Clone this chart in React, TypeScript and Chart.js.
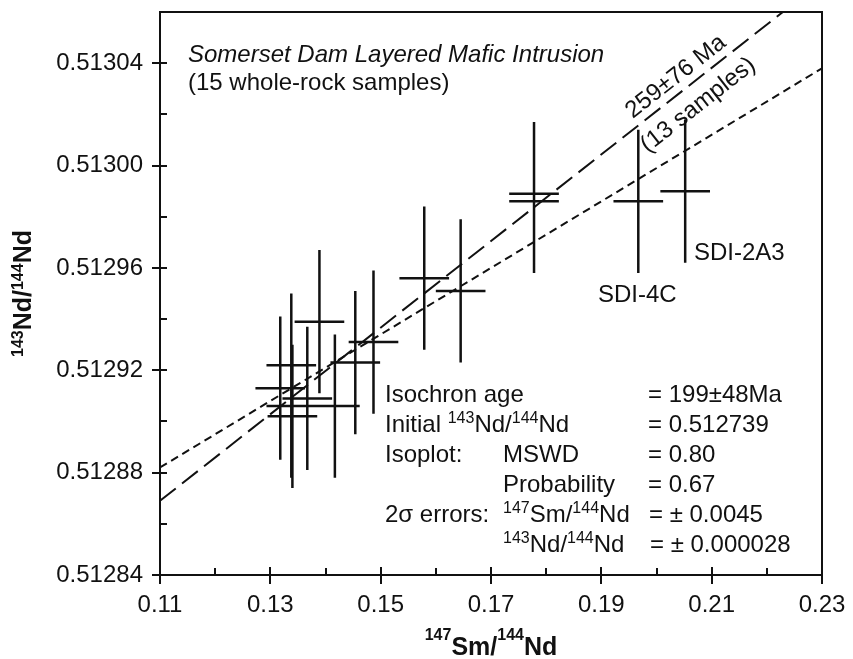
import React, { useEffect, useRef } from "react";
import { Chart, registerables } from "chart.js";

Chart.register(...registerables);

// ---- Data ----
const sampleSm = [0.2052, 0.1967, 0.1778, 0.1778, 0.1645, 0.1579, 0.1389, 0.1487, 0.1454, 0.1338, 0.1318, 0.1367, 0.1417, 0.1338, 0.134];
const sampleNd = [0.51299, 0.512986, 0.512989, 0.512986, 0.512951, 0.512956, 0.512939, 0.512931, 0.512923, 0.512922, 0.512913, 0.512909, 0.512906, 0.512906, 0.512902];
const smErr2s = 0.0045;
const ndErr2s = 0.000028;

const isoX = [0.11, 0.23];
const iso199Nd = [0.512882, 0.513038];
const iso259Nd = [0.512869, 0.513072];

const xMajorTicks = [0.11, 0.13, 0.15, 0.17, 0.19, 0.21, 0.23];
const xMinorTicks = [0.12, 0.14, 0.16, 0.18, 0.2, 0.22];
const yMajorTicks = [0.51284, 0.51288, 0.51292, 0.51296, 0.513, 0.51304];
const yMinorTicks = [0.51286, 0.5129, 0.51294, 0.51298, 0.51302];

const xMin = 0.11;
const xMax = 0.23;
const yMin = 0.51284;
const yMax = 0.51306;

const FAMILY = "'Liberation Sans', Arial, Helvetica, sans-serif";
const INK = "#111";

type Seg = { t: string; sup?: boolean };

function drawRich(
  ctx: CanvasRenderingContext2D,
  segs: Seg[],
  x: number,
  y: number,
  size: number,
  supSize: number,
  raise: number,
  weight: string,
  align: "left" | "center"
) {
  const fontOf = (s: Seg) => `${weight} ${s.sup ? supSize : size}px ${FAMILY}`;
  let total = 0;
  for (const s of segs) {
    ctx.font = fontOf(s);
    total += ctx.measureText(s.t).width;
  }
  let cx = align === "center" ? x - total / 2 : x;
  ctx.textAlign = "left";
  ctx.textBaseline = "alphabetic";
  for (const s of segs) {
    ctx.font = fontOf(s);
    ctx.fillText(s.t, cx, s.sup ? y - raise : y);
    cx += ctx.measureText(s.t).width;
  }
}

const annotPlugin = {
  id: "isoAnnot",
  afterDraw(chart: any) {
    const { ctx, chartArea: a } = chart;
    const xs = chart.scales.x;
    const ys = chart.scales.y;
    ctx.save();
    // frame
    ctx.strokeStyle = INK;
    ctx.lineWidth = 2;
    ctx.strokeRect(a.left, a.top, a.right - a.left, a.bottom - a.top);
    // ticks
    ctx.beginPath();
    xMajorTicks.forEach((v) => {
      const px = Math.round(xs.getPixelForValue(v));
      ctx.moveTo(px, a.bottom - 8);
      ctx.lineTo(px, a.bottom + 9);
    });
    xMinorTicks.forEach((v) => {
      const px = Math.round(xs.getPixelForValue(v));
      ctx.moveTo(px, a.bottom - 7);
      ctx.lineTo(px, a.bottom);
    });
    yMajorTicks.forEach((v) => {
      const py = Math.round(ys.getPixelForValue(v));
      ctx.moveTo(a.left - 8, py);
      ctx.lineTo(a.left + 7, py);
    });
    yMinorTicks.forEach((v) => {
      const py = Math.round(ys.getPixelForValue(v));
      ctx.moveTo(a.left, py);
      ctx.lineTo(a.left + 7, py);
    });
    ctx.stroke();

    ctx.fillStyle = INK;
    // Title
    ctx.textAlign = "left";
    ctx.textBaseline = "alphabetic";
    ctx.font = `italic 24px ${FAMILY}`;
    ctx.fillText("Somerset Dam Layered Mafic Intrusion", 188, 62);
    ctx.font = `24px ${FAMILY}`;
    ctx.fillText("(15 whole-rock samples)", 188, 90);

    // Sample labels
    ctx.fillText("SDI-4C", 598, 302);
    ctx.fillText("SDI-2A3", 694, 260);

    // Statistics block
    const c1 = 385;
    const c2 = 503;
    const c3 = 648;
    const b0 = 402;
    const lh = 30;
    const txt = (s: string, x: number, y: number) => {
      ctx.font = `24px ${FAMILY}`;
      ctx.textAlign = "left";
      ctx.textBaseline = "alphabetic";
      ctx.fillText(s, x, y);
    };
    txt("Isochron age", c1, b0);
    txt("= 199\u00b148Ma", c3, b0);
    drawRich(ctx, [{ t: "Initial " }, { t: "143", sup: true }, { t: "Nd/" }, { t: "144", sup: true }, { t: "Nd" }], c1, b0 + lh, 24, 16, 9, "normal", "left");
    txt("= 0.512739", c3, b0 + lh);
    txt("Isoplot:", c1, b0 + 2 * lh);
    txt("MSWD", c2, b0 + 2 * lh);
    txt("= 0.80", c3, b0 + 2 * lh);
    txt("Probability", c2, b0 + 3 * lh);
    txt("= 0.67", c3, b0 + 3 * lh);
    txt("2\u03c3 errors:", c1, b0 + 4 * lh);
    drawRich(ctx, [{ t: "147", sup: true }, { t: "Sm/" }, { t: "144", sup: true }, { t: "Nd" }], c2, b0 + 4 * lh, 24, 16, 9, "normal", "left");
    txt("= \u00b1 0.0045", c3 + 1, b0 + 4 * lh);
    drawRich(ctx, [{ t: "143", sup: true }, { t: "Nd/" }, { t: "144", sup: true }, { t: "Nd" }], c2, b0 + 5 * lh, 24, 16, 9, "normal", "left");
    txt("= \u00b1 0.000028", c3 + 2, b0 + 5 * lh);

    // Rotated labels along the 259 Ma line
    const p0x = xs.getPixelForValue(isoX[0]);
    const p0y = ys.getPixelForValue(iso259Nd[0]);
    const p1x = xs.getPixelForValue(isoX[1]);
    const p1y = ys.getPixelForValue(iso259Nd[1]);
    const ang = Math.atan2(p1y - p0y, p1x - p0x);
    const ax = xs.getPixelForValue(0.2052);
    const t = (ax - p0x) / (p1x - p0x);
    const ay = p0y + t * (p1y - p0y);
    ctx.save();
    ctx.translate(ax, ay);
    ctx.rotate(ang);
    ctx.font = `24px ${FAMILY}`;
    ctx.textAlign = "center";
    ctx.textBaseline = "middle";
    ctx.fillText("259\u00b176 Ma", 0, -15);
    ctx.fillText("(13 samples)", 0, 21);
    ctx.restore();

    // Axis titles
    const midX = (a.left + a.right) / 2;
    drawRich(ctx, [{ t: "147", sup: true }, { t: "Sm/" }, { t: "144", sup: true }, { t: "Nd" }], midX, 655, 25, 16, 15, "bold", "center");
    ctx.save();
    ctx.translate(31, (a.top + a.bottom) / 2);
    ctx.rotate(-Math.PI / 2);
    drawRich(ctx, [{ t: "143", sup: true }, { t: "Nd/" }, { t: "144", sup: true }, { t: "Nd" }], 0, 0, 25, 16, 8, "bold", "center");
    ctx.restore();

    ctx.restore();
  },
};

function buildErrorBars() {
  const pts: { x: number; y: number | null }[] = [];
  sampleSm.forEach((sx, i) => {
    const ny = sampleNd[i];
    pts.push({ x: sx - smErr2s, y: ny }, { x: sx + smErr2s, y: ny }, { x: sx, y: null });
    pts.push({ x: sx, y: ny - ndErr2s }, { x: sx, y: ny + ndErr2s }, { x: sx, y: null });
  });
  return pts;
}

const zeroPad = (s: any) => {
  s.paddingTop = 0;
  s.paddingBottom = 0;
  s.paddingLeft = 0;
  s.paddingRight = 0;
};

export default function App() {
  const ref = useRef<HTMLCanvasElement>(null);
  useEffect(() => {
    const canvas = ref.current;
    if (!canvas) return;
    const chart = new Chart(canvas, {
      type: "scatter",
      data: {
        datasets: [
          {
            label: "199 Ma isochron",
            data: isoX.map((v, i) => ({ x: v, y: iso199Nd[i] })),
            showLine: true,
            borderColor: INK,
            borderWidth: 2,
            borderDash: [8, 5],
            pointRadius: 0,
            clip: 0,
          } as any,
          {
            label: "259 Ma reference",
            data: isoX.map((v, i) => ({ x: v, y: iso259Nd[i] })),
            showLine: true,
            borderColor: INK,
            borderWidth: 2,
            borderDash: [20, 8],
            pointRadius: 0,
            clip: 0,
          } as any,
          {
            label: "samples",
            data: buildErrorBars(),
            showLine: true,
            spanGaps: false,
            borderColor: INK,
            borderWidth: 2.5,
            pointRadius: 0,
            clip: 0,
          } as any,
        ],
      },
      options: {
        animation: false,
        responsive: false,
        devicePixelRatio: 1,
        events: [],
        layout: { padding: { top: 12, right: 31, left: 0, bottom: 0 } },
        plugins: {
          legend: { display: false },
          tooltip: { enabled: false },
        },
        scales: {
          x: {
            type: "linear",
            position: "bottom",
            min: xMin,
            max: xMax,
            grid: { display: false, drawTicks: false },
            border: { display: false },
            afterBuildTicks: (s: any) => {
              s.ticks = xMajorTicks.map((v) => ({ value: v }));
            },
            afterFit: (s: any) => {
              s.height = 84;
              zeroPad(s);
            },
            ticks: {
              autoSkip: false,
              maxRotation: 0,
              padding: 16,
              color: INK,
              font: { family: FAMILY, size: 24 },
              callback: (v: any) => Number(v).toFixed(2),
            },
          },
          y: {
            type: "linear",
            position: "left",
            min: yMin,
            max: yMax,
            grid: { display: false, drawTicks: false },
            border: { display: false },
            afterBuildTicks: (s: any) => {
              s.ticks = yMajorTicks.map((v) => ({ value: v }));
            },
            afterFit: (s: any) => {
              s.width = 160;
              zeroPad(s);
            },
            ticks: {
              autoSkip: false,
              padding: 17,
              color: INK,
              font: { family: FAMILY, size: 24 },
              callback: (v: any) => Number(v).toFixed(5),
            },
          },
        },
      } as any,
      plugins: [annotPlugin],
    });
    return () => chart.destroy();
  }, []);
  return (
    <div style={{ position: "absolute", left: 0, top: 0, width: 853, height: 659, background: "#fff" }}>
      <canvas ref={ref} width={853} height={659} style={{ display: "block" }} />
    </div>
  );
}
